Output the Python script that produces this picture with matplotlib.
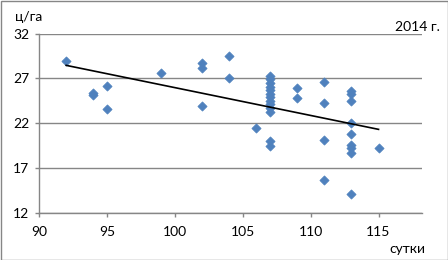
import numpy as np
import matplotlib
matplotlib.use("Agg")
import matplotlib.pyplot as plt
from matplotlib.patches import Rectangle

plt.rcParams['font.family'] = ['Lato', 'DejaVu Sans']

# Data: days (сутки) vs yield (ц/га)
days = [92, 94, 94, 95, 95, 99, 102, 102, 102, 104, 104, 106,
        107, 107, 107, 107, 107, 107, 107, 107, 107, 107, 107, 107, 107,
        109, 109, 111, 111, 111, 111,
        113, 113, 113, 113, 113, 113, 113, 113, 113, 115]
yield_cha = [29.0, 25.2, 25.4, 26.2, 23.6, 27.6, 28.7, 28.15, 23.9, 29.5, 27.1, 21.5,
             27.3, 26.9, 26.5, 26.1, 25.7, 25.3, 24.9, 24.5, 24.1, 23.7, 23.3, 20.0, 19.5,
             25.9, 24.8, 26.55, 24.3, 20.1, 15.7,
             25.6, 25.3, 24.5, 22.0, 20.85, 19.6, 19.2, 18.7, 14.1, 19.24]

x_ticks = [90, 95, 100, 105, 110, 115]
y_ticks = [12, 17, 22, 27, 32]

fig = plt.figure(figsize=(4.48, 2.6), dpi=100)
ax = fig.add_axes([39/448, 1-213/260, (422-39)/448, (213-33.6)/260])

gray = '#868686'
ax.set_xlim(90, 118.2)
ax.set_ylim(12, 32)
ax.set_xticks(x_ticks)
ax.set_yticks(y_ticks)
ax.yaxis.grid(True, color=gray, linewidth=1.0)
ax.set_axisbelow(True)
for s in ['top', 'right']:
    ax.spines[s].set_visible(False)
for s in ['left', 'bottom']:
    ax.spines[s].set_color(gray)
    ax.spines[s].set_linewidth(1.0)
ax.tick_params(axis='both', colors=gray, length=3, width=1.0, labelcolor='black', labelsize=10)
ax.tick_params(axis='x', pad=6)
ax.tick_params(axis='y', pad=4)

ax.scatter(days, yield_cha, marker='D', s=22, color='#4F81BD', edgecolors='#4F81BD', linewidths=0.5, zorder=3)

coef = np.polyfit(days, yield_cha, 1)
xs = np.array([min(days), max(days)])
ax.plot(xs, np.polyval(coef, xs), color='black', linewidth=1.2, zorder=4)

fig.text(15/448, 1-17/260, 'ц/га', fontsize=10, ha='left', va='center')
fig.text(440/448, 1-27/260, '2014 г.', fontsize=10, ha='right', va='center')
fig.text(425/448, 1-249/260, 'сутки', fontsize=10, ha='right', va='center')

fig.patches.append(Rectangle((0.5/448, 0.5/260), 1-1/448, 1-1/260, transform=fig.transFigure,
                             fill=False, edgecolor=gray, linewidth=1.0))

fig.savefig('out.png', dpi=100)
